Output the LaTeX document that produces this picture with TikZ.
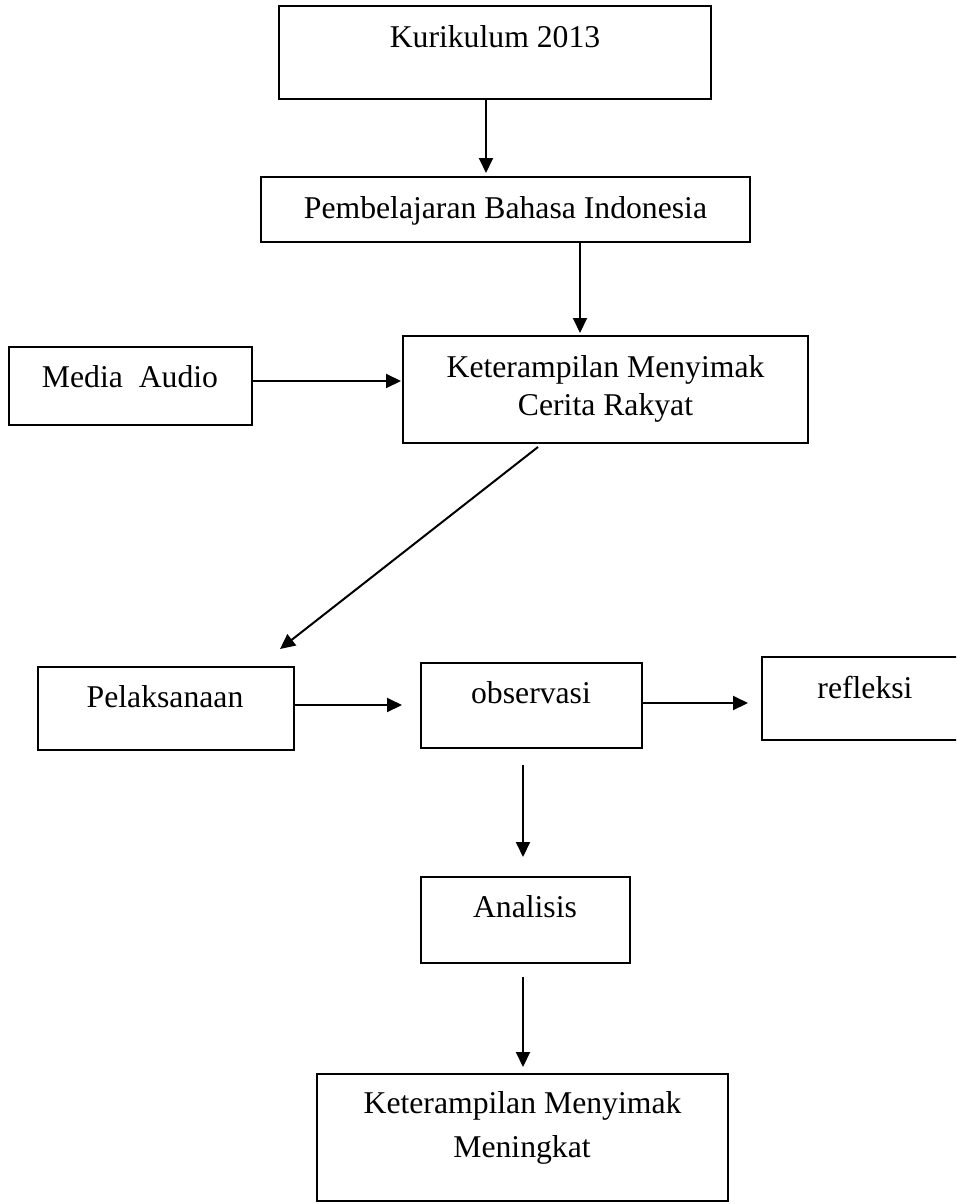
\documentclass[tikz,border=0pt]{standalone}
\usepackage{fontspec}
\setmainfont{Liberation Serif}
\usetikzlibrary{arrows.meta}
\begin{document}
\begin{tikzpicture}[x=1pt,y=-1pt,
 box/.style={draw, line width=1.7pt, inner sep=0pt, outer sep=0pt},
 lbl/.style={anchor=base, inner sep=0pt, font=\fontsize{31.7}{38}\selectfont},
 arr/.style={line width=2pt, -{Triangle[length=15pt,width=14pt]}}]
\useasboundingbox (0,0) rectangle (956,1204);
\fill[white] (0,0) rectangle (956,1204);
\clip (0,0) rectangle (956,1204);
% boxes
\node[box, minimum width=432pt, minimum height=93pt] (k) at (495,52.5) {};
\node[box, minimum width=489pt, minimum height=65pt] (p) at (505.5,209.5) {};
\node[box, minimum width=243pt, minimum height=78pt] (m) at (130.5,386) {};
\node[box, minimum width=405pt, minimum height=107pt] (ks) at (605.5,389.5) {};
\node[box, minimum width=256pt, minimum height=83pt] (pl) at (166,708.5) {};
\node[box, minimum width=221pt, minimum height=85pt] (ob) at (531.5,705.5) {};
\node[box, minimum width=206pt, minimum height=83pt] (rf) at (865,698.5) {};
\node[box, minimum width=209pt, minimum height=86pt] (an) at (525.5,920) {};
\node[box, minimum width=411pt, minimum height=127pt] (f) at (522.5,1137.5) {};
% texts
\node[lbl] (kT) at (495,48) {Kurikulum 2013};
\node[lbl] (pT) at (505.5,218) {Pembelajaran Bahasa Indonesia};
\node[lbl] (mT) at (130,387) {Media\ \ Audio};
\node[lbl] (ksT1) at (605.5,377) {Keterampilan Menyimak};
\node[lbl] (ksT2) at (605.5,415) {Cerita Rakyat};
\node[lbl] (plT) at (165,707) {Pelaksanaan};
\node[lbl] (obT) at (531,703) {observasi};
\node[lbl] (rfT) at (865,698) {refleksi};
\node[lbl] (anT) at (525,917) {Analisis};
\node[lbl] (fT1) at (522.5,1113) {Keterampilan Menyimak};
\node[lbl] (fT2) at (522,1157) {Meningkat};
% arrows
\draw[arr, shorten >=4pt] ([xshift=-9pt]k.south) -- ([xshift=-9pt]k.south |- p.north);
\draw[arr, shorten >=3pt] ([xshift=74.5pt]p.south) -- ([xshift=74.5pt]p.south |- ks.north);
\draw[arr, shorten >=2pt] ([yshift=5pt]m.east) -- ([yshift=5pt]m.east -| ks.west);
\draw[arr] ([xshift=-67.5pt,yshift=-4pt]ks.south) -- ([xshift=114pt,yshift=18pt]pl.north);
\draw[arr, shorten >=19pt] ([yshift=3.5pt]pl.east) -- ([yshift=3.5pt]pl.east -| ob.west);
\draw[arr, shorten >=14pt] ([yshift=2.5pt]ob.east) -- ([yshift=2.5pt]ob.east -| rf.west);
\draw[arr, shorten <=17pt, shorten >=20pt] ([xshift=-8.5pt]ob.south) -- ([xshift=-8.5pt]ob.south |- an.north);
\draw[arr, shorten <=14pt, shorten >=7pt] ([xshift=-2.5pt]an.south) -- ([xshift=-2.5pt]an.south |- f.north);
\end{tikzpicture}
\end{document}
